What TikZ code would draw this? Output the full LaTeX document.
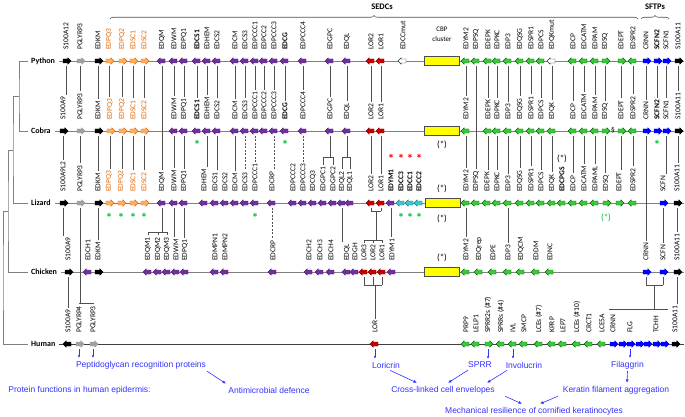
\documentclass[tikz,border=0pt]{standalone}
\usepackage{fontspec}
\setmainfont{Carlito}
\newfontfamily\fnfont{Liberation Sans}
\usetikzlibrary{arrows.meta,positioning,calc,shapes.arrows,decorations.pathreplacing}
\definecolor{edgry}{RGB}{160,160,160}
\definecolor{edorg}{RGB}{250,176,100}
\definecolor{edorgln}{RGB}{226,107,10}
\definecolor{edpur}{RGB}{112,48,160}
\definecolor{edred}{RGB}{200,0,0}
\definecolor{edgrn}{RGB}{60,200,60}
\definecolor{edgrnln}{RGB}{0,110,0}
\definecolor{edcyn}{RGB}{60,200,210}
\definecolor{edblu}{RGB}{0,0,255}
\definecolor{edylw}{RGB}{255,255,0}
\definecolor{edchr}{RGB}{128,128,128}
\definecolor{edlnk}{RGB}{80,80,80}
\definecolor{edast}{RGB}{0,190,60}
\definecolor{edfn}{RGB}{51,51,255}
\newcommand{\olab}[1]{\textcolor{edorgln}{#1}}
\tikzset{
  gene/.style={single arrow, draw, line width=0.4pt, inner xsep=0pt, inner ysep=1.8pt,
    minimum height=8pt, minimum width=0pt, single arrow head extend=1.1pt},
  gblk/.style={gene, fill=black, draw=black},
  ggry/.style={gene, fill=edgry, draw=edgry},
  gorg/.style={gene, fill=edorg, draw=edorgln},
  gpur/.style={gene, fill=edpur, draw=edpur!70!black},
  gred/.style={gene, fill=edred, draw=edred!70!black},
  gwht/.style={gene, fill=white, draw=black!80},
  ggrn/.style={gene, fill=edgrn, draw=edgrnln},
  gcyn/.style={gene, fill=edcyn, draw=edcyn!60!black},
  gblu/.style={gene, fill=edblu, draw=edblu},
  cbp/.style={draw=black!70, fill=edylw, minimum width=35pt, minimum height=9pt,
    inner sep=0pt, line width=0.5pt},
  glab/.style={rotate=90, anchor=west, inner sep=0pt, font=\fontsize{7.5}{8}\selectfont},
  rowname/.style={anchor=west, inner sep=0pt, font=\fontsize{8}{9}\selectfont\bfseries},
  chrom/.style={draw=edchr, line width=0.7pt},
  tree/.style={draw=edchr, line width=0.8pt},
  link/.style={draw=edlnk, line width=0.45pt, shorten <=2.5pt, shorten >=2pt},
  dlink/.style={link, dash pattern=on 2pt off 1.5pt},
  bar/.style={draw=edlnk, line width=0.45pt},
  gast/.style={text=edast, inner sep=0pt, font=\fontsize{13}{13}\selectfont\bfseries},
  rast/.style={text=red, inner sep=0pt, font=\fontsize{13}{13}\selectfont\bfseries},
  qast/.style={inner sep=0pt, font=\fontsize{9}{9}\selectfont},
  head/.style={inner sep=0pt, font=\fontsize{8.5}{9}\selectfont\bfseries},
  fntxt/.style={text=edfn, inner sep=0pt, font=\fnfont\fontsize{8.5}{9}\selectfont},
  fnarr/.style={-{Latex[length=3.5pt,width=3pt]}, draw=edfn, line width=0.6pt},
  dnarr/.style={-{Latex[length=2.5pt,width=2.5pt]}, draw=edfn, line width=0.6pt,
    shorten <=3pt, shorten >=3pt}
}
\begin{document}
\begin{tikzpicture}[x=1pt,y=-1pt]
  \useasboundingbox (0,0) rectangle (685,417);
  \fill[white] (0,0) rectangle (685,417);

  % header braces
  \draw[bar, line width=0.6pt, decorate, decoration={brace, amplitude=3.5pt}] (110,19) -- (638,19);
  \node[head] (sedc) at (382,7) {SEDCs};
  \draw[bar, line width=0.6pt, decorate, decoration={brace, amplitude=3.5pt}] (641,19) -- (669,19);
  \node[head] (sftp) at (655,7) {SFTPs};

  % species and chromosome lines
  \node[rowname] (py) at (31,61) {Python};
  \node[rowname] (co) at (31,131) {Cobra};
  \node[rowname] (li) at (31,203) {Lizard};
  \node[rowname] (ch) at (31,272) {Chicken};
  \node[rowname] (hu) at (31,344) {Human};
  \coordinate (pyE) at (684,61);
  \coordinate (coE) at (684,131);
  \coordinate (liE) at (684,203);
  \coordinate (chE) at (684,272);
  \coordinate (huE) at (684,344);
  \foreach \r in {py,co,li,ch}
    \draw[chrom] ([xshift=4pt]\r.east) -- (\r E);
  \draw[chrom, draw=black!75] ([xshift=4pt]hu.east) -- (huE);

  % tree
  \coordinate (snk) at (19,96);
  \coordinate (sqm) at (13,150);
  \coordinate (sau) at (8,211);
  \coordinate (amn) at (3,277);
  \draw[tree] ([xshift=-3pt]py.west) -| (snk) |- ([xshift=-3pt]co.west);
  \draw[tree] (snk) -| (sqm) |- ([xshift=-3pt]li.west);
  \draw[tree] (sqm) -| (sau) |- ([xshift=-3pt]ch.west);
  \draw[tree] (sau) -| (amn) |- ([xshift=-3pt]hu.west);

  % Python
  \foreach \x/\k/\t/\s/\d in {
    66/S100A12/S100A12/gblk/0, 80/PGLYRP3/PGLYRP3/ggry/0, 98/EDKM/EDKM/gblk/0,
    109/EDPQ3/\olab{EDPQ3}/gorg/0, 122/EDPQ2/\olab{EDPQ2}/gorg/0,
    133/EDSC1/\olab{EDSC1}/gorg/0, 144/EDSC2/\olab{EDSC2}/gorg/0,
    162/EDQM/EDQM/gpur/180, 174/EDWM/EDWM/gpur/180, 184/EDPQ1/EDPQ1/gpur/180,
    197/EDCS1/\textbf{EDCS1}/gpur/180, 207/EDHEM/EDHEM/gpur/180, 217/EDCS2/EDCS2/gpur/180,
    235/EDCM/EDCM/gpur/180, 245/EDCS3/EDCS3/gpur/180, 255/EDPCCC1/EDPCCC1/gpur/180,
    264/EDPCC2/EDPCC2/gpur/180, 274/EDPCCC3/EDPCCC3/gpur/180, 285/EDCG/\textbf{EDCG}/gpur/180,
    303/EDPCCC4/EDPCCC4/gpur/180, 330/EDGPC/EDGPC/gpur/180, 347/EDQL/EDQL/gpur/180,
    371/LOR2/LOR2/gred/180, 381/LOR1/LOR1/gred/180, 403/EDCCmut/EDCCmut/gwht/180,
    466/EDYM2/EDYM2/ggrn/180, 476/EDPSQ/EDPSQ/ggrn/180, 488/EDEPK/EDEPK/ggrn/180,
    497/EDPKC/EDPKC/ggrn/180, 508/EDP3/EDP3/ggrn/180, 520/EDQSG/EDQSG/ggrn/180,
    531/EDSPR1/EDSPR1/ggrn/180, 541/EDPCS/EDPCS/ggrn/180, 552/EDQKmut/EDQKmut/gwht/180,
    573/EDCP/EDCP/ggrn/180, 584/EDCATM/EDCATM/ggrn/180, 595/EDPAM/EDPAM/ggrn/180,
    605/EDSQ/EDSQ/ggrn/0, 621/EDEPT/EDEPT/ggrn/0, 633/EDSPR2/EDSPR2/ggrn/180,
    646/CRNN/CRNN/gblu/0, 657/SCFN2/\textbf{SCFN2}/gblu/0, 666/SCFN1/SCFN1/gblu/0,
    678/S100A11/S100A11/gblk/0} {
    \node[\s, shape border rotate=\d] (py\k) at (\x,61) {};
    \node[glab] (py\k-l) at (\x,50) {\t};
  }
  \node[cbp] (pyCBP) at (441.5,61) {};
  \node[align=center, inner sep=0pt, font=\fontsize{7}{10}\selectfont] (pyCBP-l) at (442,34) {CBP\\cluster};

  % Cobra
  \foreach \x/\k/\t/\s/\d in {
    63/S100A9/S100A9/gblk/0, 80/PGLYRP3/PGLYRP3/ggry/0, 98/EDKM/EDKM/gblk/0,
    110/EDPQ3/\olab{EDPQ3}/gorg/0, 122/EDPQ2/\olab{EDPQ2}/gorg/0,
    133/EDSC1/\olab{EDSC1}/gorg/0, 144/EDSC2/\olab{EDSC2}/gorg/0,
    174/EDWM/EDWM/gpur/180, 184/EDPQ1/EDPQ1/gpur/180,
    197/EDCS1/\textbf{EDCS1}/gpur/180, 207/EDHEM/EDHEM/gpur/180, 217/EDCS2/EDCS2/gpur/180,
    235/EDCM/EDCM/gpur/180, 245/EDCS3/EDCS3/gpur/180, 255/EDPCCC1/EDPCCC1/gpur/180,
    264/EDPCCC2/EDPCCC2/gpur/180, 274/EDPCCC3/EDPCCC3/gpur/180, 285/EDCG/\textbf{EDCG}/gpur/180,
    303/EDPCCC4/EDPCCC4/gpur/180, 330/EDGPC/EDGPC/gpur/180, 347/EDQL/EDQL/gpur/180,
    371/LOR2/LOR2/gred/180, 381/LOR1/LOR1/gred/180,
    466/EDYM2/EDYM2/ggrn/180, 488/EDEPK/EDEPK/ggrn/180,
    497/EDPKC/EDPKC/ggrn/180, 508/EDP3/EDP3/ggrn/180, 520/EDQSG/EDQSG/ggrn/180,
    531/EDSPR1/EDSPR1/ggrn/180, 541/EDPCS/EDPCS/ggrn/180, 552/EDQK/EDQK/ggrn/180,
    573/EDCP/EDCP/ggrn/180, 584/EDCATM/EDCATM/ggrn/180, 595/EDPAM/EDPAM/ggrn/180,
    605/EDSQ/EDSQ/ggrn/0, 621/EDEPT/EDEPT/ggrn/0, 633/EDSPR2/EDSPR2/ggrn/180,
    646/CRNN/CRNN/gblu/0, 657/SCFN2/\textbf{SCFN2}/gblu/0, 666/SCFN1/SCFN1/gblu/0,
    678/S100A11/S100A11/gblk/0} {
    \node[\s, shape border rotate=\d] (co\k) at (\x,131) {};
    \node[glab] (co\k-l) at (\x,120) {\t};
  }
  \node[cbp] (coCBP) at (441.5,131) {};
  \node[inner sep=0pt, font=\fontsize{7.5}{8}\selectfont] (coSec) at (613,130) {\S};

  % Lizard
  \foreach \x/\k/\t/\s/\d in {
    63/S100A9L2/S100A9L2/gblk/0, 80/PGLYRP3/PGLYRP3/ggry/0, 98/EDKM/EDKM/gblk/0,
    109/EDPQ3/\olab{EDPQ3}/gorg/0, 121/EDPQ2/\olab{EDPQ2}/gorg/0,
    133/EDSC1/\olab{EDSC1}/gorg/0, 144/EDSC2/\olab{EDSC2}/gorg/0,
    162/EDQM/EDQM/gpur/180, 174/EDWM/EDWM/gpur/180, 184/EDPQ1/EDPQ1/gpur/180,
    204/EDHEM/EDHEM/gpur/180, 215/EDCS1/EDCS1/gpur/180, 225/EDCS2/EDCS2/gpur/180,
    235/EDCM/EDCM/gpur/180, 245/EDCS3/EDCS3/gpur/180, 255/EDPCCC1/EDPCCC1/gpur/180,
    272/EDCRP/EDCRP/gpur/180, 293/EDPCCC2/EDPCCC2/gpur/180, 303/EDPCCC3/EDPCCC3/gpur/180,
    313/EDCQ3/EDCQ3/gpur/180, 323/EDGPC1/EDGPC1/gpur/180, 333/EDGPC2/EDGPC2/gpur/180,
    342/EDQL2/EDQL2/gpur/180, 350/EDQL1/EDQL1/gpur/180,
    371/LOR2/LOR2/gred/180, 381/LOR1/LOR1/gred/180, 391/EDYM1/\textbf{EDYM1}/gpur/180,
    401/EDCC3/\textbf{EDCC3}/gcyn/180, 410/EDCC1/\textbf{EDCC1}/gcyn/180, 419/EDCC2/\textbf{EDCC2}/gcyn/180,
    466/EDYM2/EDYM2/ggrn/180, 476/EDPSQ/EDPSQ/ggrn/180, 487/EDEPK/EDEPK/ggrn/180,
    497/EDPKC/EDPKC/ggrn/180, 508/EDP3/EDP3/ggrn/180, 520/EDQSG/EDQSG/ggrn/180,
    531/EDSPR1/EDSPR1/ggrn/180, 541/EDPCS/EDPCS/ggrn/180, 552/EDQK/EDQK/ggrn/180,
    562/EDCPGS/\textbf{EDCPGS}/ggrn/180, 573/EDCP/EDCP/ggrn/180, 584/EDCATM/EDCATM/ggrn/180,
    595/EDPAML/EDPAML/ggrn/180, 606/EDSQ/EDSQ/ggrn/0, 619/EDEPT/EDEPT/ggrn/0,
    633/EDSPR2/EDSPR2/ggrn/180, 663/SCFN/SCFN/gblu/0, 677/S100A11/S100A11/gblk/0} {
    \node[\s, shape border rotate=\d] (li\k) at (\x,203) {};
    \node[glab] (li\k-l) at (\x,192) {\t};
  }
  \node[cbp] (liCBP) at (443,203) {};

  % Chicken
  \foreach \x/\k/\t/\s/\d in {
    68/S100A9/S100A9/gblk/0, 88/EDCH1/EDCH1/gpur/180, 98/EDKM/EDKM/gblk/0,
    148/EDQM1/EDQM1/gpur/180, 158/EDQM2/EDQM2/gpur/180, 167/EDQM3/EDQM3/gpur/180,
    176/EDWM/EDWM/gpur/180, 185/EDPQ1/EDPQ1/gpur/180,
    215/EDMPN1/EDMPN1/gpur/180, 225/EDMPN2/EDMPN2/gpur/180, 273/EDCRP/EDCRP/gpur/180,
    309/EDCH2/EDCH2/gpur/180, 320/EDCH3/EDCH3/gpur/180, 331/EDCH4/EDCH4/gpur/180,
    347/EDQL/EDQL/gpur/180, 355/EDGH/EDGH/gpur/180,
    364/LOR3/LOR3/gred/180, 373/LOR2/LOR2/gred/180, 382/LOR1/LOR1/gred/180,
    392/EDYM1/EDYM1/gpur/180,
    466/EDYM2/EDYM2/ggrn/180, 479/EDQrep/EDQrep/ggrn/180, 493/EDPE/EDPE/ggrn/180,
    508/EDP3/EDP3/ggrn/180, 521/EDQCM/EDQCM/ggrn/180, 536/EDDM/EDDM/ggrn/180,
    550/EDNC/EDNC/ggrn/180,
    646/CRNN/CRNN/gblu/0, 663/SCFN/SCFN/gblu/0, 677/S100A11/S100A11/gblk/0} {
    \node[\s, shape border rotate=\d] (ch\k) at (\x,272) {};
    \node[glab] (ch\k-l) at (\x,261) {\t};
  }
  \node[cbp] (chCBP) at (441.5,272) {};

  % Human
  \foreach \x/\k/\t/\s/\d in {
    68/S100A9/S100A9/gblk/180, 79/PGLYRP4/PGLYRP4/ggry/0, 93/PGLYRP3/PGLYRP3/ggry/0,
    375/LOR/LOR/gred/180,
    466/PRP9/PRP9/ggrn/180, 476/LELP1/LELP1/ggrn/180, 488/SPRR2s/SPRR2s (\#7)/ggrn/0,
    501/SPRRs/SPRRs (\#4)/ggrn/180, 513/IVL/IVL/ggrn/180, 524/SMCP/SMCP/ggrn/180,
    539/LCEsA/LCEs (\#7)/ggrn/180, 552/KPRP/KPRP/ggrn/180, 563/LEP7/LEP7/ggrn/180,
    577/LCEsB/LCEs (\#10)/ggrn/180, 589/CRCT1/CRCT1/ggrn/180, 602/LCE5A/LCE5A/ggrn/180,
    613/CRNN/CRNN/gblu/0, 630/FLG/FLG/gblu/0, 656/TCHH/TCHH/gblu/0,
    675/S100A11/S100A11/gblk/0} {
    \node[\s, shape border rotate=\d] (hu\k) at (\x,344) {};
    \node[glab] (hu\k-l) at (\x,333) {\t};
  }
  \foreach \x [count=\i] in {622,639,647,664}
    \node[gblu] (huB\i) at (\x,344) {};

  % Python -> Cobra
  \foreach \k in {PGLYRP3,EDKM,EDPQ3,EDPQ2,EDSC1,EDSC2,EDWM,EDPQ1,EDCS1,EDHEM,EDCS2,
      EDCM,EDCS3,EDPCCC1,EDPCCC3,EDCG,EDPCCC4,EDGPC,EDQL,LOR2,LOR1,EDYM2,EDEPK,EDPKC,
      EDP3,EDQSG,EDSPR1,EDPCS,EDCP,EDCATM,EDPAM,EDSQ,EDEPT,EDSPR2,CRNN,SCFN2,SCFN1,S100A11}
    \draw[link] (py\k) -- (py\k |- co\k-l.east);
  \foreach \a/\b in {pyS100A12/coS100A9, pyEDPCC2/coEDPCCC2, pyEDQKmut/coEDQK,
      pyEDQM/liEDQM, pyEDPSQ/liEDPSQ}
    \draw[link] (\a) -- (\a |- \b-l.east);

  % Cobra -> Lizard
  \foreach \k in {PGLYRP3,EDKM,EDPQ3,EDPQ2,EDSC1,EDSC2,EDWM,EDPQ1,EDHEM,EDCS2,EDCM,
      LOR2,LOR1,EDYM2,EDEPK,EDPKC,EDP3,EDQSG,EDSPR1,EDPCS,EDQK,EDCP,EDCATM,EDSQ,
      EDEPT,EDSPR2,S100A11}
    \draw[link] (co\k) -- (co\k |- li\k-l.east);
  \foreach \a/\b in {coS100A9/liS100A9L2, coEDPAM/liEDPAML, coSCFN1/liSCFN, coCRNN/chCRNN}
    \draw[link] (\a) -- (\a |- \b-l.east);
  \foreach \a/\b in {coEDCS3/liEDCS3, coEDPCCC1/liEDPCCC1, coEDPCCC3/liEDCRP, coEDPCCC4/liEDPCCC3}
    \draw[dlink] (\a) -- (\a |- \b-l.east);
  \coordinate (bCL) at (0,157);
  \foreach \a/\b/\c in {coEDGPC/liEDGPC1/liEDGPC2, coEDQL/liEDQL2/liEDQL1} {
    \draw[link, shorten >=0pt] (\a) -- (\a |- bCL);
    \draw[bar] (\b |- bCL) -- (\c |- bCL);
    \draw[link, shorten <=0pt] (\b |- bCL) -- (\b-l.east);
    \draw[link, shorten <=0pt] (\c |- bCL) -- (\c-l.east);
  }

  % Lizard -> Chicken
  \foreach \k in {EDKM,EDWM,EDPQ1,EDYM1,EDYM2,EDP3,SCFN,S100A11}
    \draw[link] (li\k) -- (li\k |- ch\k-l.east);
  \foreach \a/\b in {liS100A9L2/chS100A9, liEDQL2/chEDQL}
    \draw[link] (\a) -- (\a |- \b-l.east);
  \draw[dlink] (liEDCRP) -- (liEDCRP |- chEDCRP-l.east);
  \coordinate (bLC) at (0,232);
  \draw[link, shorten >=0pt] (liEDQM) -- (liEDQM |- bLC);
  \draw[bar] (chEDQM1 |- bLC) -- (chEDQM3 |- bLC);
  \foreach \g in {EDQM1,EDQM2,EDQM3}
    \draw[link, shorten <=0pt] (ch\g |- bLC) -- (ch\g-l.east);
  \coordinate (bLa) at (0,211);
  \coordinate (bLb) at (0,240);
  \foreach \g in {LOR2,LOR1}
    \draw[link, shorten >=0pt] (li\g) -- (li\g |- bLa);
  \draw[bar] (liLOR2 |- bLa) -- (liLOR1 |- bLa);
  \coordinate (lorM) at ($(liLOR2 |- bLa)!0.5!(liLOR1 |- bLa)$);
  \draw[bar] (lorM) -- (lorM |- bLb);
  \draw[bar] (chLOR3 |- bLb) -- (chLOR1 |- bLb);
  \foreach \g in {LOR3,LOR2,LOR1}
    \draw[link, shorten <=0pt] (ch\g |- bLb) -- (ch\g-l.east);

  % Chicken -> Human
  \foreach \k in {S100A9,S100A11}
    \draw[link] (ch\k) -- (ch\k |- hu\k-l.east);
  \coordinate (bHa) at (0,303);
  \draw[link, shorten >=0pt] (liPGLYRP3) -- (liPGLYRP3 |- bHa);
  \draw[bar] (huPGLYRP4 |- bHa) -- (huPGLYRP3 |- bHa);
  \foreach \g in {PGLYRP4,PGLYRP3}
    \draw[link, shorten <=0pt] (hu\g |- bHa) -- (hu\g-l.east);
  \coordinate (bHb) at (0,285);
  \coordinate (bHc) at (0,309);
  \foreach \g in {LOR3,LOR2,LOR1,CRNN,SCFN}
    \draw[link, shorten >=0pt] (ch\g) -- (ch\g |- bHb);
  \draw[bar] (chLOR3 |- bHb) -- (chLOR1 |- bHb);
  \draw[link, shorten <=0pt] (huLOR |- bHb) -- (huLOR |- huLOR-l.east);
  \draw[bar] (chCRNN |- bHb) -- (chSCFN |- bHb);
  \coordinate (sfM) at ($(chCRNN |- bHb)!0.5!(chSCFN |- bHb)$);
  \draw[bar] (sfM) -- (sfM |- bHc);
  \draw[bar] ([xshift=-4pt]huCRNN |- bHc) -- ([xshift=4pt]huB4 |- bHc);

  % asterisks
  \coordinate (aCo) at (0,145);
  \coordinate (aRd) at (0,159);
  \coordinate (aLi) at (0,218);
  \foreach \g in {coEDCS1,coEDCG,coSCFN2}
    \node[gast] at (\g |- aCo) {*};
  \foreach \g in {liEDPQ3,liEDPQ2,liEDSC1,liEDSC2,liEDPCCC1,liEDCC3,liEDCC1,liEDCC2}
    \node[gast] at (\g |- aLi) {*};
  \foreach \g in {liEDYM1,liEDCC3,liEDCC1,liEDCC2}
    \node[rast] at (\g |- aRd) {*};
  \node[qast] (qa1) at (442,145) {(*)};
  \node[qast] (qa2) at (562,159) {(*)};
  \node[qast] (qa3) at (442,189) {(*)};
  \node[qast] (qa4) at (442,219) {(*)};
  \node[qast, text=edast] (qa5) at (606,218) {(*)};
  \node[qast] (qa6) at (442,258) {(*)};

  % protein functions
  \node[fntxt] (fnPgrp) at (141,365) {Peptidoglycan recognition proteins};
  \node[fntxt] (fnTitle) at (79.5,390) {Protein functions in human epidermis:};
  \node[fntxt] (fnAmd) at (269,390) {Antimicrobial defence};
  \node[fntxt] (fnLor) at (386,365) {Loricrin};
  \node[fntxt] (fnSprr) at (480,365) {SPRR};
  \node[fntxt] (fnIvl) at (524,365) {Involucrin};
  \node[fntxt] (fnFlg) at (627.5,365) {Filaggrin};
  \node[fntxt] (fnCle) at (443,390) {Cross-linked cell envelopes};
  \node[fntxt] (fnKer) at (616,390) {Keratin filament aggregation};
  \node[fntxt] (fnMech) at (534,411) {Mechanical resilience of cornified keratinocytes};
  \foreach \a/\b in {huPGLYRP4/fnPgrp, huPGLYRP3/fnPgrp, huLOR/fnLor, huSPRR2s/fnSprr,
      huIVL/fnIvl, huFLG/fnFlg}
    \draw[dnarr] (\a) -- (\a |- \b.north);
  \draw[fnarr] ([xshift=66pt,yshift=-2pt]fnPgrp.south) -- ([xshift=-43pt,yshift=3pt]fnAmd.north);
  \draw[fnarr] ([xshift=4pt,yshift=-2pt]fnLor.south) -- ([xshift=-26pt,yshift=3pt]fnCle.north);
  \draw[fnarr] ([xshift=-12pt,yshift=-2pt]fnSprr.south) -- ([xshift=5pt,yshift=3pt]fnCle.north);
  \draw[fnarr] ([xshift=-17pt,yshift=-2pt]fnIvl.south) -- ([xshift=44pt,yshift=3pt]fnCle.north);
  \draw[fnarr] ([yshift=-2pt]fnFlg.south) -- ([xshift=11pt,yshift=3pt]fnKer.north);
  \draw[fnarr] ([xshift=62pt,yshift=-2pt]fnCle.south) -- ([xshift=-12pt,yshift=3pt]fnMech.north);
  \draw[fnarr] ([xshift=-58pt,yshift=-2pt]fnKer.south) -- ([xshift=6pt,yshift=3pt]fnMech.north);
\end{tikzpicture}
\end{document}
